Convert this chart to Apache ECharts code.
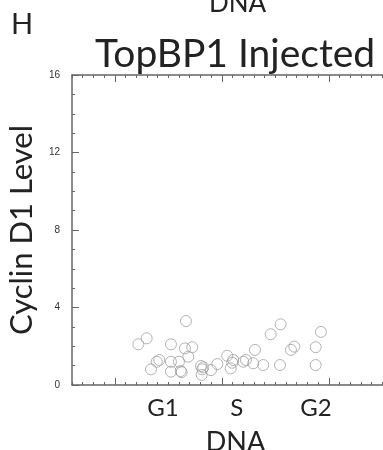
<!DOCTYPE html>
<html>
<head>
<meta charset="utf-8">
<script src="https://cdn.jsdelivr.net/npm/echarts@6/dist/echarts.min.js"></script>
<style>
html,body{margin:0;padding:0;background:#fff;}
#c{width:383px;height:450px;}
</style>
</head>
<body>
<div id="c"></div>
<script>
// DNA position (arbitrary units, 1 unit = one minor tick)
const dnaX = [6.20, 6.98, 10.65, 9.25, 10.56, 11.24, 10.87, 7.38, 7.92, 8.16,
  9.25, 10.00, 9.25, 10.16, 10.25, 12.06, 12.27, 12.18, 12.12, 12.99,
  13.58, 14.51, 15.07, 14.98, 14.83, 16.01, 16.26, 16.94, 17.10, 17.88,
  18.57, 19.50, 19.44, 20.47, 20.78, 22.78, 22.78, 23.27];
const cyclinD1 = [2.10, 2.41, 3.30, 2.10, 1.89, 1.95, 1.46, 0.81, 1.20, 1.29,
  1.20, 1.20, 0.69, 0.72, 0.66, 0.98, 0.91, 0.81, 0.52, 0.77,
  1.08, 1.51, 1.29, 1.15, 0.86, 1.20, 1.29, 1.12, 1.81, 1.03,
  2.62, 3.13, 1.03, 1.81, 1.98, 1.95, 1.03, 2.74];
const phaseLabels = ['G1', 'S', 'G2'];
const phasePos = [8.5, 15.4, 22.8];
const majorTicksX = [4, 14, 24];
const yTicks = [0, 4, 8, 12, 16];

const points = dnaX.map((x, i) => [x, cyclinD1[i]]);
const XMIN = 0, XMAX = 29.07;
const axisColor = '#666';
const font = 'Lato';

function minorAxis(pos) {
  return {
    type: 'value', position: pos, min: XMIN, max: XMAX, interval: 1,
    axisLine: {show: true, lineStyle: {color: axisColor, width: 1.5}},
    axisTick: {show: true, inside: true, length: 3, lineStyle: {color: axisColor, width: 1}},
    axisLabel: {show: false}, splitLine: {show: false}
  };
}
function majorAxis(pos, withLabels) {
  const a = {
    type: 'value', position: pos, min: XMIN, max: XMAX,
    axisLine: {show: false},
    axisTick: {show: true, inside: true, length: 7, customValues: majorTicksX, lineStyle: {color: axisColor, width: 1}},
    axisLabel: {show: false}, splitLine: {show: false}
  };
  if (withLabels) {
    a.axisLabel = {
      show: true, customValues: phasePos, margin: 11,
      fontFamily: font, fontSize: 24, color: '#222',
      formatter: v => {
        const i = phasePos.findIndex(p => Math.abs(p - v) < 1e-6);
        return i >= 0 ? phaseLabels[i] : '';
      }
    };
    a.name = 'DNA';
    a.nameLocation = 'middle';
    a.nameGap = 44;
    a.nameTextStyle = {fontFamily: font, fontSize: 27, color: '#222', padding: [0, 0, 0, 16]};
  }
  return a;
}

const chart = echarts.init(document.getElementById('c'));
chart.setOption({
  animation: false,
  backgroundColor: '#fff',
  title: {
    text: 'TopBP1 Injected', left: 90, top: 30,
    textStyle: {fontFamily: font, fontSize: 39, fontWeight: 'normal', color: '#222'}
  },
  graphic: [
    {type: 'text', left: 11, top: 10, style: {text: 'H', fontFamily: font, fontSize: 29, fill: '#222'}},
    {type: 'text', left: 209, top: -9, style: {text: 'DNA', fontFamily: font, fontSize: 26, fill: '#222'}}
  ],
  grid: {left: 72, right: 0, top: 75, bottom: 65, outerBoundsMode: 'none', containLabel: false},
  xAxis: [minorAxis('bottom'), majorAxis('bottom', true), minorAxis('top'), majorAxis('top', false)],
  yAxis: {
    type: 'value', min: 0, max: 16, interval: 4,
    axisLine: {show: true, lineStyle: {color: axisColor, width: 1.5}},
    axisTick: {show: true, inside: true, length: 7, lineStyle: {color: axisColor, width: 1}},
    minorTick: {show: true, splitNumber: 4, length: 3, lineStyle: {color: axisColor, width: 1}},
    axisLabel: {fontFamily: 'Liberation Sans', fontSize: 10, color: '#333', margin: 12},
    splitLine: {show: false},
    name: 'Cyclin D1 Level', nameLocation: 'middle', nameGap: 28,
    nameTextStyle: {fontFamily: font, fontSize: 31, color: '#222'}
  },
  series: [{
    type: 'scatter', xAxisIndex: 0, data: points,
    symbol: 'circle', symbolSize: 11,
    itemStyle: {color: 'rgba(0,0,0,0)', borderColor: '#a0a0a0', borderWidth: 1}
  }]
});
</script>
</body>
</html>
